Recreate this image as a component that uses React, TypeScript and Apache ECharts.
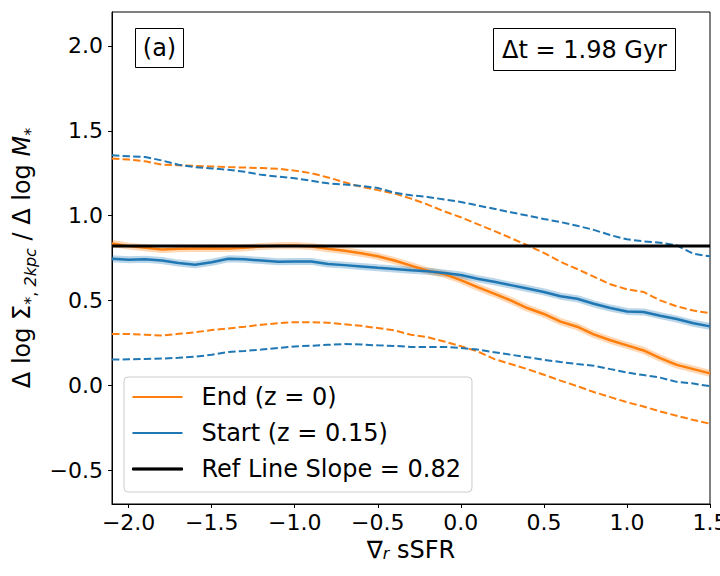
import React, { useEffect, useRef } from "react";
import * as echarts from "echarts";

const xValues = [
  -2.1, -2.0, -1.9, -1.8, -1.7, -1.6, -1.5, -1.4, -1.3, -1.2, -1.1, -1.0, -0.9,
  -0.8, -0.7, -0.6, -0.5, -0.4, -0.3, -0.2, -0.1, 0.0, 0.1, 0.2, 0.3, 0.4, 0.5,
  0.6, 0.7, 0.8, 0.9, 1.0, 1.1, 1.2, 1.3, 1.4, 1.5,
];

const endMedian = [
  0.835, 0.82, 0.81, 0.8, 0.805, 0.806, 0.807, 0.806, 0.81, 0.818, 0.822, 0.823,
  0.818, 0.805, 0.793, 0.778, 0.76, 0.735, 0.705, 0.675, 0.655, 0.62, 0.578,
  0.54, 0.5, 0.455, 0.42, 0.375, 0.345, 0.3, 0.265, 0.235, 0.205, 0.16, 0.12,
  0.095, 0.07,
];

const startMedian = [
  0.745, 0.74, 0.742, 0.735, 0.72, 0.71, 0.725, 0.745, 0.742, 0.735, 0.728, 0.73,
  0.73, 0.714, 0.708, 0.7, 0.692, 0.685, 0.678, 0.672, 0.662, 0.65, 0.628, 0.61,
  0.59, 0.57, 0.55, 0.525, 0.51, 0.48, 0.455, 0.435, 0.432, 0.41, 0.39, 0.365,
  0.347,
];

const endUpper = [
  1.337, 1.33, 1.32, 1.3, 1.296, 1.293, 1.29, 1.286, 1.283, 1.28, 1.276, 1.265,
  1.25, 1.225, 1.196, 1.17, 1.15, 1.13, 1.1, 1.065, 1.025, 0.99, 0.95, 0.91,
  0.868, 0.825, 0.78, 0.728, 0.685, 0.64, 0.595, 0.565, 0.55, 0.5, 0.465, 0.44,
  0.425,
];

const startUpper = [
  1.355, 1.35, 1.345, 1.325, 1.3, 1.285, 1.278, 1.27, 1.258, 1.24, 1.23, 1.22,
  1.205, 1.19, 1.183, 1.175, 1.163, 1.135, 1.12, 1.11, 1.095, 1.08, 1.06, 1.04,
  1.02, 1.0, 0.98, 0.962, 0.94, 0.916, 0.885, 0.86, 0.848, 0.84, 0.825, 0.775,
  0.76,
];

const endLower = [
  0.302, 0.302, 0.298, 0.293, 0.303, 0.312, 0.325, 0.335, 0.345, 0.357, 0.365,
  0.372, 0.372, 0.368, 0.36, 0.35, 0.337, 0.323, 0.298, 0.283, 0.258, 0.23, 0.2,
  0.155, 0.125, 0.095, 0.062, 0.027, -0.005, -0.04, -0.07, -0.1, -0.125, -0.155,
  -0.18, -0.205, -0.227,
];

const startLower = [
  0.151, 0.153, 0.155, 0.157, 0.162, 0.168, 0.18, 0.196, 0.202, 0.21, 0.22,
  0.229, 0.233, 0.238, 0.243, 0.24, 0.235, 0.232, 0.226, 0.226, 0.226, 0.22,
  0.21, 0.195, 0.18, 0.165, 0.15, 0.137, 0.125, 0.115, 0.095, 0.075, 0.06,
  0.045, 0.02, 0.01, -0.006,
];

const refSlope = 0.82;
const xTicks = [-2.0, -1.5, -1.0, -0.5, 0.0, 0.5, 1.0, 1.5];
const yTicks = [-0.5, 0.0, 0.5, 1.0, 1.5, 2.0];

const ORANGE = "#ff7f0e";
const BLUE = "#1f77b4";
const FONT = "DejaVu Sans";

const pair = (ys: number[]) => xValues.map((x, i) => [x, ys[i]]);
const fmt = (v: number) =>
  v < 0 ? "\u2212" + Math.abs(v).toFixed(1) : v.toFixed(1);

export default function App() {
  const ref = useRef<HTMLDivElement>(null);

  useEffect(() => {
    if (!ref.current) return;
    const chart = echarts.init(ref.current, undefined, { renderer: "svg" });

    const dashed = (name: string, ys: number[], color: string) => ({
      name,
      type: "line",
      data: pair(ys),
      showSymbol: false,
      symbol: "none",
      itemStyle: { color },
      lineStyle: { color, width: 2, type: [7.4, 3.2] },
      z: 2,
    });
    const band = (name: string, ys: number[], color: string) => ({
      name,
      type: "line",
      data: pair(ys),
      showSymbol: false,
      symbol: "none",
      itemStyle: { color },
      lineStyle: { color, width: 7, opacity: 0.3 },
      z: 3,
    });
    const median = (name: string, ys: number[], color: string) => ({
      name,
      type: "line",
      data: pair(ys),
      showSymbol: false,
      symbol: "none",
      itemStyle: { color },
      lineStyle: { color, width: 2.5 },
      z: 4,
    });

    chart.setOption({
      animation: false,
      textStyle: { fontFamily: FONT },
      grid: {
        left: 112,
        right: 10,
        top: 12,
        bottom: 72,
        containLabel: false,
        outerBoundsMode: "none",
        show: true,
        borderColor: "#000",
        borderWidth: 1,
        backgroundColor: "transparent",
      },
      xAxis: {
        type: "value",
        min: -2.1,
        max: 1.5,
        name: "\u2207{sub|r} sSFR",
        nameLocation: "middle",
        nameGap: 30,
        nameTextStyle: {
          fontSize: 24,
          color: "#000",
          fontFamily: FONT,
          rich: {
            sub: {
              fontSize: 16,
              fontStyle: "italic",
              fontFamily: FONT,
              color: "#000",
              verticalAlign: "bottom",
              lineHeight: 16,
            },
          },
        },
        axisLine: {
          show: true,
          onZero: false,
          lineStyle: { color: "#000", width: 1 },
        },
        axisTick: {
          show: true,
          length: 4,
          customValues: xTicks,
          lineStyle: { color: "#000" },
        },
        axisLabel: {
          customValues: xTicks,
          formatter: (v: number) => fmt(v),
          fontSize: 22,
          color: "#000",
          fontFamily: FONT,
          margin: 7,
        },
        splitLine: { show: false },
      },
      yAxis: {
        type: "value",
        min: -0.7,
        max: 2.2,
        name:
          "\u0394 log \u03a3{sub|*, }{subi|2kpc}{n| / \u0394 log }{it|M}{sub|*}",
        nameLocation: "middle",
        nameRotate: 90,
        nameGap: 68,
        nameTextStyle: {
          fontSize: 24,
          color: "#000",
          fontFamily: FONT,
          lineHeight: 34,
          rich: {
            n: { fontSize: 24, fontFamily: FONT, color: "#000", lineHeight: 34 },
            it: {
              fontSize: 24,
              fontStyle: "italic",
              fontFamily: FONT,
              color: "#000",
              lineHeight: 34,
            },
            sub: {
              fontSize: 16,
              fontFamily: FONT,
              color: "#000",
              verticalAlign: "bottom",
              lineHeight: 16,
            },
            subi: {
              fontSize: 16,
              fontStyle: "italic",
              fontFamily: FONT,
              color: "#000",
              verticalAlign: "bottom",
              lineHeight: 16,
            },
          },
        },
        axisLine: {
          show: true,
          onZero: false,
          lineStyle: { color: "#000", width: 1 },
        },
        axisTick: {
          show: true,
          length: 4,
          customValues: yTicks,
          lineStyle: { color: "#000" },
        },
        axisLabel: {
          customValues: yTicks,
          formatter: (v: number) => fmt(v),
          fontSize: 22,
          color: "#000",
          fontFamily: FONT,
          margin: 9,
        },
        splitLine: { show: false },
      },
      legend: {
        orient: "vertical",
        left: 124,
        top: 377,
        data: [
          {
            name: "End (z = 0)",
            icon: "rect",
            itemStyle: { color: ORANGE, borderWidth: 0 },
          },
          {
            name: "Start (z = 0.15)",
            icon: "rect",
            itemStyle: { color: BLUE, borderWidth: 0 },
          },
          {
            name: "Ref Line Slope = 0.82",
            icon: "rect",
            itemStyle: { color: "#000", borderColor: "#000", borderWidth: 1 },
          },
        ],
        itemWidth: 50,
        itemHeight: 2.2,
        itemGap: 8,
        padding: [6, 11, 9, 8],
        backgroundColor: "rgba(255,255,255,0.8)",
        borderColor: "#cccccc",
        borderWidth: 1,
        borderRadius: 4,
        textStyle: {
          fontSize: 24,
          color: "#000",
          fontFamily: FONT,
          lineHeight: 28,
          padding: [0, 0, 0, 14],
        },
      },
      graphic: [
        {
          type: "rect",
          shape: { x: 135.5, y: 28.5, width: 48, height: 39 },
          style: { fill: "#fff", stroke: "#000", lineWidth: 1 },
          z: 10,
        },
        {
          type: "text",
          x: 159.5,
          y: 48,
          style: {
            text: "(a)",
            fontSize: 24,
            fontFamily: FONT,
            fill: "#000",
            align: "center",
            verticalAlign: "middle",
          },
          z: 11,
        },
        {
          type: "rect",
          shape: { x: 493.5, y: 28.5, width: 182, height: 42 },
          style: { fill: "#fff", stroke: "#000", lineWidth: 1 },
          z: 10,
        },
        {
          type: "text",
          x: 584.5,
          y: 49.5,
          style: {
            text: "\u0394t = 1.98 Gyr",
            fontSize: 24,
            fontFamily: FONT,
            fill: "#000",
            align: "center",
            verticalAlign: "middle",
          },
          z: 11,
        },
      ],
      series: [
        dashed("endUpper", endUpper, ORANGE),
        dashed("endLower", endLower, ORANGE),
        dashed("startUpper", startUpper, BLUE),
        dashed("startLower", startLower, BLUE),
        band("endBand", endMedian, ORANGE),
        median("End (z = 0)", endMedian, ORANGE),
        band("startBand", startMedian, BLUE),
        median("Start (z = 0.15)", startMedian, BLUE),
        {
          name: "Ref Line Slope = 0.82",
          type: "line",
          data: [
            [xValues[0], refSlope],
            [xValues[xValues.length - 1], refSlope],
          ],
          showSymbol: false,
          symbol: "none",
          itemStyle: { color: "#000" },
          lineStyle: { color: "#000", width: 3 },
          z: 5,
        },
      ],
    });

    return () => chart.dispose();
  }, []);

  return (
    <div
      ref={ref}
      style={{
        position: "fixed",
        left: 0,
        top: 0,
        width: 720,
        height: 576,
        background: "#fff",
      }}
    />
  );
}
